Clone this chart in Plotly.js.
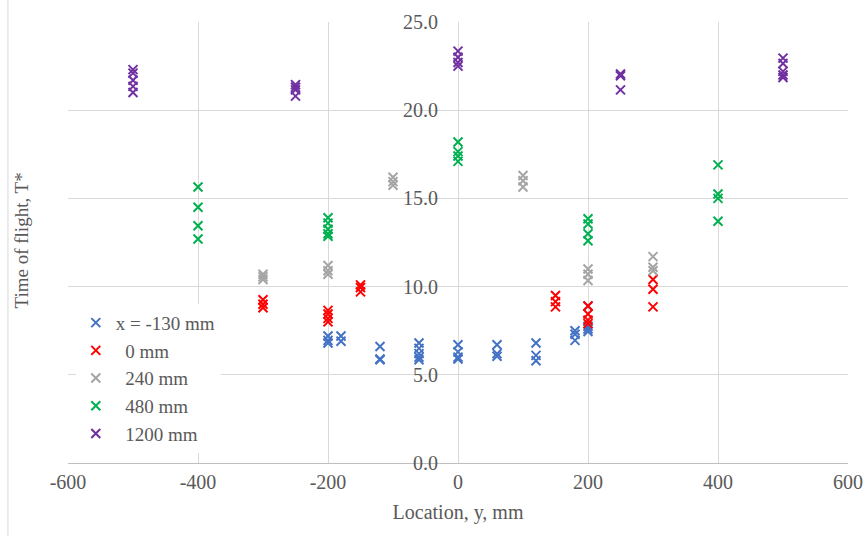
<!DOCTYPE html>
<html>
<head>
<meta charset="utf-8">
<script src="https://cdn.plot.ly/plotly-3.0.1.min.js"></script>
<style>html,body{margin:0;padding:0;background:#fff;}#chart{width:864px;height:536px;}</style>
</head>
<body>
<div id="chart"></div>
<script>
// Series names
const seriesNames = ["x = -130 mm", "\u00a0\u00a00 mm", "\u00a0\u00a0240 mm", "\u00a0\u00a0480 mm", "\u00a0\u00a01200 mm"];

// Axis tick labels
const xTickVals = [-600, -400, -200, 0, 200, 400, 600];
const xTickText = ["-600", "-400", "-200", "0", "200", "400", "600"];
const yTickVals = [0, 5, 10, 15, 20, 25];
const yTickText = ["0.0", "5.0", "10.0", "15.0", "20.0", "25.0"];

// x = -130 mm (blue)
const blueX = [-200, -200, -200, -180, -180, -120, -120, -120, -60, -60, -60, -60, -60, 0, 0, 0, 0, 60, 60, 60, 120, 120, 120, 180, 180, 180, 200, 200, 200, 200];
const blueY = [7.2, 6.95, 6.8, 7.2, 6.9, 6.6, 5.9, 5.85, 6.8, 6.5, 6.2, 6.0, 5.85, 6.7, 6.3, 6.0, 5.9, 6.7, 6.2, 6.05, 6.8, 6.1, 5.8, 7.5, 7.3, 6.95, 8.9, 7.75, 7.6, 7.45];

// 0 mm (red)
const redX = [-300, -300, -300, -200, -200, -200, -200, -150, -150, -150, 150, 150, 150, 200, 200, 200, 200, 300, 300, 300];
const redY = [9.25, 9.0, 8.8, 8.65, 8.45, 8.2, 8.0, 10.1, 9.95, 9.7, 9.5, 9.15, 8.85, 8.9, 8.45, 8.1, 7.9, 10.4, 9.85, 8.85];

// 240 mm (gray)
const grayX = [-300, -300, -300, -200, -200, -200, -100, -100, -100, 100, 100, 100, 200, 200, 200, 300, 300, 300];
const grayY = [10.7, 10.55, 10.4, 11.2, 10.9, 10.7, 16.2, 15.95, 15.75, 16.3, 16.0, 15.65, 11.0, 10.7, 10.35, 11.7, 11.1, 10.9];

// 480 mm (green)
const greenX = [-400, -400, -400, -400, -200, -200, -200, -200, -200, 0, 0, 0, 0, 200, 200, 200, 200, 400, 400, 400, 400];
const greenY = [15.65, 14.5, 13.45, 12.7, 13.9, 13.6, 13.25, 13.0, 12.85, 18.2, 17.65, 17.4, 17.1, 13.85, 13.55, 13.0, 12.6, 16.9, 15.25, 15.0, 13.7];

// 1200 mm (purple)
const purpleX = [-500, -500, -500, -500, -500, -250, -250, -250, -250, 0, 0, 0, 0, 250, 250, 250, 500, 500, 500, 500, 500];
const purpleY = [22.3, 22.1, 21.7, 21.35, 21.0, 21.45, 21.3, 21.15, 20.8, 23.35, 23.0, 22.7, 22.5, 22.05, 21.95, 21.15, 22.95, 22.65, 22.2, 22.0, 21.85];

const colors = ["#4472C4", "#FF0000", "#A5A5A5", "#00B050", "#7030A0"];
const xs = [blueX, redX, grayX, greenX, purpleX];
const ys = [blueY, redY, grayY, greenY, purpleY];

const traces = xs.map((x, i) => ({
  type: "scatter",
  mode: "markers",
  x: x,
  y: ys[i],
  name: seriesNames[i],
  marker: {symbol: "x-thin-open", size: 9, color: colors[i], line: {color: colors[i], width: 2}},
  hoverinfo: "x+y"
}));

const fontFam = "'Liberation Serif', 'Times New Roman', serif";

const layout = {
  width: 864,
  height: 536,
  margin: {l: 68, r: 16, t: 22, b: 73},
  paper_bgcolor: "#ffffff",
  plot_bgcolor: "#ffffff",
  font: {family: fontFam, size: 20, color: "#595959"},
  showlegend: true,
  legend: {
    x: 0.01, y: 0.361, xanchor: "left", yanchor: "top",
    bgcolor: "#ffffff",
    borderwidth: 0,
    font: {family: fontFam, size: 19, color: "#595959"}
  },
  xaxis: {
    range: [-600, 600],
    tickmode: "array",
    tickvals: xTickVals,
    ticktext: xTickText,
    showgrid: true,
    gridcolor: "#d9d9d9",
    gridwidth: 1,
    zeroline: true,
    zerolinecolor: "#d9d9d9",
    zerolinewidth: 1,
    showline: false,
    ticks: "",
    ticklabelstandoff: 5,
    tickfont: {family: fontFam, size: 20, color: "#595959"},
    title: {text: "Location, y, mm", font: {family: fontFam, size: 20, color: "#595959"}, standoff: 12}
  },
  yaxis: {
    range: [0, 25],
    tickmode: "array",
    tickvals: yTickVals,
    ticktext: yTickText,
    anchor: "free",
    position: 0.5,
    showgrid: true,
    gridcolor: "#d9d9d9",
    gridwidth: 1,
    zeroline: true,
    zerolinecolor: "#bfbfbf",
    zerolinewidth: 1,
    showline: false,
    ticks: "",
    ticklabelstandoff: 20,
    tickfont: {family: fontFam, size: 20, color: "#595959"}
  },
  annotations: [{
    text: "Time of flight, T*",
    xref: "paper", yref: "paper",
    x: -0.06, y: 0.505,
    xanchor: "center", yanchor: "middle",
    textangle: -90,
    showarrow: false,
    font: {family: fontFam, size: 19, color: "#595959"}
  }],
  shapes: [{
    type: "line", xref: "paper", yref: "paper",
    x0: -0.077, x1: -0.077, y0: -0.17, y1: 1.05,
    line: {color: "#d9d9d9", width: 1}
  }]
};

Plotly.newPlot("chart", traces, layout, {displayModeBar: false, staticPlot: true});
</script>
</body>
</html>
